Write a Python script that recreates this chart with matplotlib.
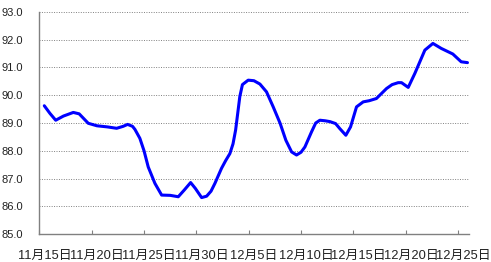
import matplotlib
matplotlib.use('Agg')
import matplotlib.pyplot as plt

# days counted from 11/15 (0 = start of 11/15)
day_offset = [0.47, 1.0, 1.56, 2.3, 3.24, 3.8, 4.67, 5.5, 6.5, 7.38, 8.0, 8.43, 8.9,
              9.13, 9.6, 10.0, 10.4, 11.04, 11.68, 12.5, 13.27, 13.84, 14.45, 14.9,
              15.5, 15.98, 16.4, 16.77, 17.4, 17.8, 18.2, 18.5, 18.75, 18.95, 19.15,
              19.4, 19.95, 20.5, 21.07, 21.7, 22.34, 23.0, 23.55, 24.1, 24.57, 25.0,
              25.37, 26.0, 26.4, 26.8, 27.3, 27.76, 28.3, 28.7, 29.28, 29.73, 30.3,
              30.94, 31.5, 32.2, 33.17, 33.7, 34.28, 34.6, 35.24, 35.87, 36.83, 37.6,
              38.4, 39.5, 40.3, 40.9]
index_value = [89.62, 89.35, 89.1, 89.25, 89.38, 89.33, 88.99, 88.9, 88.86, 88.81, 88.88,
               88.95, 88.88, 88.77, 88.45, 88.0, 87.42, 86.83, 86.41, 86.4, 86.35, 86.59,
               86.86, 86.65, 86.32, 86.37, 86.55, 86.83, 87.37, 87.65, 87.9, 88.25,
               88.75, 89.35, 89.95, 90.38, 90.54, 90.52, 90.4, 90.12, 89.58, 88.99,
               88.38, 87.96, 87.85, 87.95, 88.14, 88.68, 89.0, 89.1, 89.08, 89.05, 88.98,
               88.8, 88.56, 88.86, 89.58, 89.76, 89.8, 89.88, 90.24, 90.38, 90.45,
               90.45, 90.28, 90.78, 91.62, 91.86, 91.68, 91.48, 91.2, 91.17]

tick_days = [0, 5, 10, 15, 20, 25, 30, 35, 40]
tick_labels = ['11月15日', '11月20日', '11月25日', '11月30日', '12月5日',
               '12月10日', '12月15日', '12月20日', '12月25日']
y_ticks = [85.0, 86.0, 87.0, 88.0, 89.0, 90.0, 91.0, 92.0, 93.0]

fig = plt.figure(figsize=(4.91, 2.62), dpi=100)
ax = fig.add_axes([0.0802, 0.1057, 0.874, 0.8496])

ax.plot(day_offset, index_value, color='#0000ff', linewidth=2.2,
        solid_joinstyle='round', solid_capstyle='round')

ax.set_xlim(0, 41)
ax.set_ylim(85, 93)

ax.set_yticks(y_ticks)
ax.set_yticklabels(['%.1f' % v for v in y_ticks], family='Liberation Sans', fontsize=8)
ax.tick_params(axis='y', length=0, pad=12, colors='#222222')

ax.set_xticks(tick_days)
ax.set_xticklabels([])
ax.tick_params(axis='x', which='major', direction='in', length=3, color='#808080')
ax.set_xticks([d + 0.5 for d in tick_days], minor=True)
ax.set_xticklabels(tick_labels, minor=True,
                   family=['Liberation Sans', 'Noto Sans CJK SC'], fontsize=9.3)
ax.tick_params(axis='x', which='minor', length=0, pad=11, colors='#222222')

ax.grid(axis='y', linestyle=(0, (1, 1.5)), color='#808080', linewidth=0.7)
ax.set_axisbelow(True)

for s in ['top', 'right']:
    ax.spines[s].set_visible(False)
for s in ['left', 'bottom']:
    ax.spines[s].set_color('#808080')
    ax.spines[s].set_linewidth(1.0)

fig.savefig('out.png', dpi=100)
